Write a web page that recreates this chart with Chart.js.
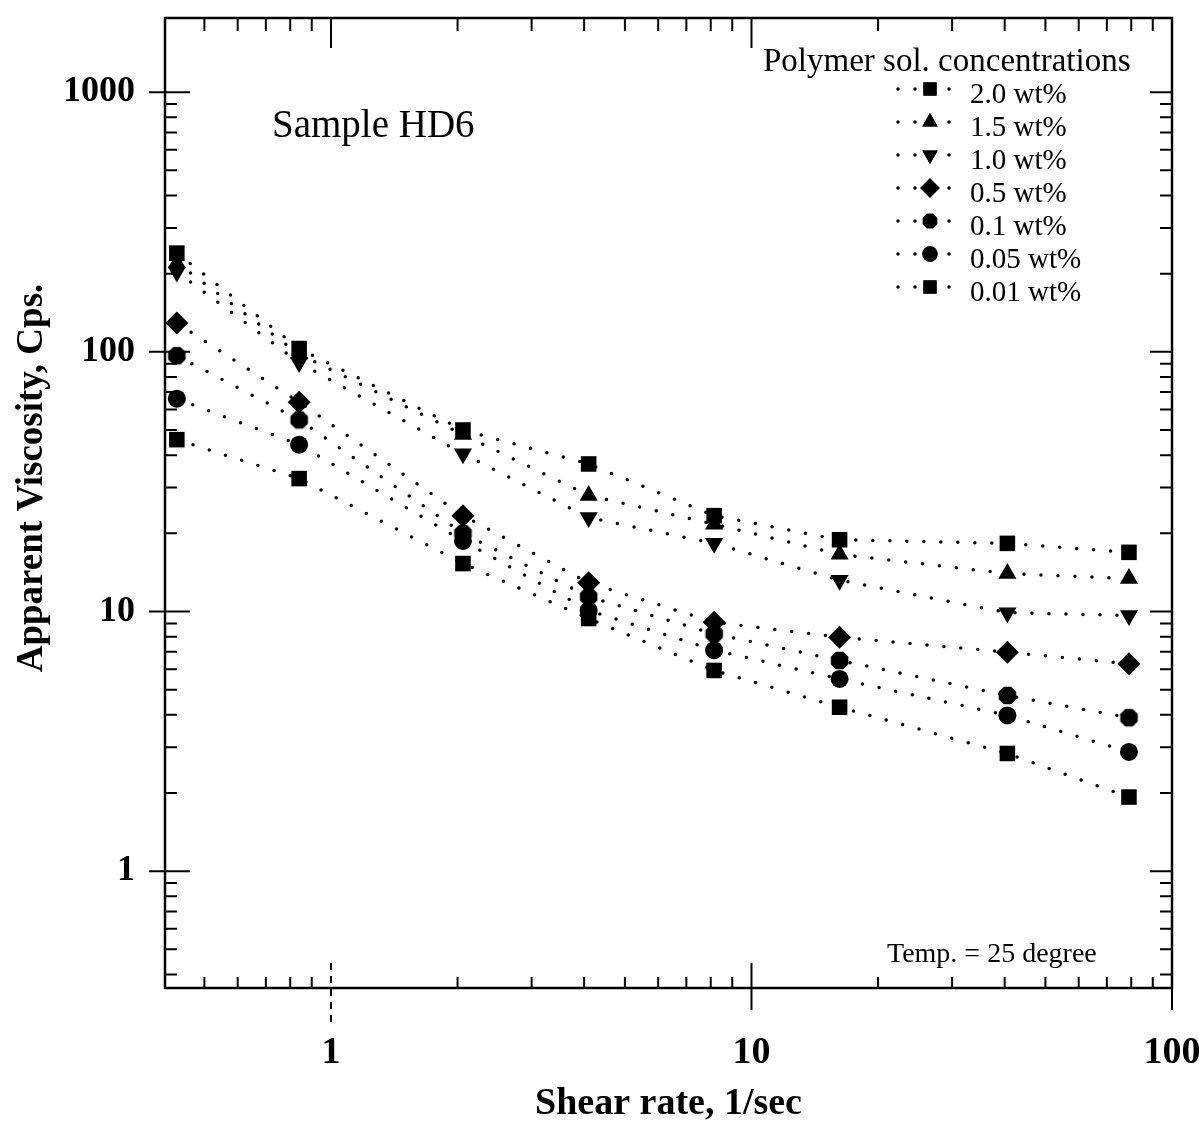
<!DOCTYPE html>
<html>
<head>
<meta charset="utf-8">
<script src="https://cdn.jsdelivr.net/npm/chart.js@4.4.1/dist/chart.umd.min.js"></script>
<style>
  html, body { margin: 0; padding: 0; background: #fff; }
</style>
</head>
<body>
<canvas id="myChart" width="1199" height="1145"></canvas>
<script>
// shear rate, 1/sec
const shearRates = [0.43, 0.84, 2.06, 4.1, 8.15, 16.2, 40.6, 79];

// apparent viscosity, cps, one array per concentration
const visc20 = [240, 103, 50, 37, 23.4, 18.9, 18.3, 16.9];
const visc15 = [220, 98, 48, 28, 21.7, 16.6, 14.0, 13.4];
const visc10 = [203, 91, 40.5, 23, 18.3, 13.2, 9.9, 9.65];
const visc05 = [129, 64, 23.4, 12.9, 9.1, 7.96, 6.97, 6.29];
const visc01 = [96.6, 54.7, 20, 11.4, 8.2, 6.48, 4.75, 3.9];
const visc005 = [66, 43.9, 18.7, 10.1, 7.1, 5.5, 3.98, 2.88];
const visc001 = [45.9, 32.5, 15.3, 9.4, 5.93, 4.28, 2.84, 1.93];

const seriesLabels = ["2.0 wt%", "1.5 wt%", "1.0 wt%", "0.5 wt%", "0.1 wt%", "0.05 wt%", "0.01 wt%"];
const xTickLabels = [1, 10, 100];
const yTickLabels = [1, 10, 100, 1000];

const SERIF = "'Liberation Serif', 'Times New Roman', serif";

// hexagon marker for 0.1 wt%
function makeHex(r) {
  const c = document.createElement("canvas");
  c.width = c.height = Math.ceil(r * 2 + 2);
  const g = c.getContext("2d");
  g.fillStyle = "#000";
  g.beginPath();
  for (let k = 0; k < 8; k++) {
    const a = Math.PI / 8 + (k * Math.PI) / 4;
    const px = c.width / 2 + r * Math.cos(a);
    const py = c.height / 2 + r * Math.sin(a);
    if (k === 0) g.moveTo(px, py); else g.lineTo(px, py);
  }
  g.closePath();
  g.fill();
  return c;
}
const hex = makeHex(9.5);
const hexSmall = makeHex(8);

function series(label, values, style, radius, rotation) {
  return {
    label,
    data: shearRates.map((x, i) => ({ x, y: values[i] })),
    borderColor: "#000",
    backgroundColor: "#000",
    borderWidth: 3.5,
    borderDash: [0, 17],
    borderCapStyle: "round",
    pointStyle: style,
    pointRadius: radius,
    pointRotation: rotation || 0,
    pointBorderWidth: 0,
    pointBackgroundColor: "#000",
    fill: false,
    tension: 0,
  };
}

const datasets = [
  series(seriesLabels[0], visc20, "rect", 11),
  series(seriesLabels[1], visc15, "triangle", 10.5),
  series(seriesLabels[2], visc10, "triangle", 10.5, 180),
  series(seriesLabels[3], visc05, "rectRot", 11.5),
  series(seriesLabels[4], visc01, hex, 9.5),
  series(seriesLabels[5], visc005, "circle", 9),
  series(seriesLabels[6], visc001, "rect", 11),
];

function drawTicks(ctx, chart) {
  const { left, right, top, bottom } = chart.chartArea;
  const xs = chart.scales.x, ys = chart.scales.y;
  ctx.save();
  ctx.strokeStyle = "#000";
  ctx.lineWidth = 2;
  // x ticks, bottom and top
  for (let d = -1; d <= 2; d++) {
    for (let m = 1; m <= 9; m++) {
      const v = m * Math.pow(10, d);
      if (v < xs.min - 1e-9 || v > xs.max + 1e-9) continue;
      const px = xs.getPixelForValue(v);
      if (m === 1) {
        ctx.beginPath();
        if (v === 1) ctx.setLineDash([7, 6]);
        ctx.moveTo(px, bottom - 25); ctx.lineTo(px, bottom + (v === 1 ? 40 : 22));
        ctx.stroke();
        ctx.setLineDash([]);
        ctx.beginPath();
        ctx.moveTo(px, top); ctx.lineTo(px, top + 30);
        ctx.stroke();
      } else {
        ctx.beginPath();
        ctx.moveTo(px, bottom); ctx.lineTo(px, bottom - 11);
        ctx.moveTo(px, top); ctx.lineTo(px, top + 13);
        ctx.stroke();
      }
    }
  }
  // y ticks, left and right
  for (let d = -1; d <= 3; d++) {
    for (let m = 1; m <= 9; m++) {
      const v = m * Math.pow(10, d);
      if (v < ys.min - 1e-9 || v > ys.max + 1e-9) continue;
      const py = ys.getPixelForValue(v);
      ctx.beginPath();
      if (m === 1) {
        ctx.moveTo(left - 16, py); ctx.lineTo(left + 25, py);
        ctx.moveTo(right, py); ctx.lineTo(right - 22, py);
      } else {
        ctx.moveTo(left, py); ctx.lineTo(left + 12, py);
        ctx.moveTo(right, py); ctx.lineTo(right - 12, py);
      }
      ctx.stroke();
    }
  }
  // frame
  ctx.lineWidth = 2.5;
  ctx.strokeRect(left, top, right - left, bottom - top);
  ctx.restore();
}

const annotate = {
  id: "annotate",
  afterDraw(chart) {
    const ctx = chart.ctx;
    drawTicks(ctx, chart);
    ctx.save();
    ctx.fillStyle = "#000";

    // y axis title
    ctx.save();
    ctx.translate(32, 478);
    ctx.rotate(-Math.PI / 2);
    ctx.textAlign = "center";
    ctx.textBaseline = "middle";
    ctx.font = "bold 37px " + SERIF;
    ctx.fillText("Apparent Viscosity, Cps.", 0, 0);
    ctx.restore();

    ctx.textBaseline = "alphabetic";
    ctx.textAlign = "left";
    ctx.font = "39px " + SERIF;
    ctx.fillText("Sample HD6", 272, 137);
    ctx.font = "28px " + SERIF;
    ctx.fillText("Temp. = 25 degree", 887, 962);
    ctx.font = "33px " + SERIF;
    ctx.fillText("Polymer sol. concentrations", 763, 71);

    // legend rows
    chart.data.datasets.forEach((ds, i) => {
      const my = 89 + i * 33;
      const mx = 930;
      ctx.save();
      ctx.strokeStyle = "#000";
      ctx.lineWidth = ds.borderWidth;
      ctx.lineCap = "round";
      ctx.setLineDash(ds.borderDash);
      ctx.beginPath();
      ctx.moveTo(mx - 32, my);
      ctx.lineTo(mx + 26, my);
      ctx.stroke();
      ctx.restore();
      Chart.helpers.drawPoint(ctx, {
        pointStyle: ds.pointStyle === hex ? hexSmall : ds.pointStyle,
        radius: ds.pointRadius * 0.85,
        rotation: ds.pointRotation,
        borderWidth: 0,
      }, mx, my);
      ctx.fillStyle = "#000";
      ctx.fill();
      ctx.font = "29px " + SERIF;
      ctx.textBaseline = "middle";
      ctx.fillText(ds.label, 970, my + 6);
    });
    ctx.restore();
  },
};

const config = {
  type: "line",
  data: { datasets },
  options: {
    responsive: false,
    animation: false,
    devicePixelRatio: 1,
    layout: { padding: { top: 18, right: 27, bottom: 0, left: 0 } },
    plugins: { legend: { display: false }, tooltip: { enabled: false } },
    scales: {
      x: {
        type: "logarithmic",
        position: "bottom",
        min: 0.403,
        max: 100,
        grid: { display: false, drawTicks: false },
        border: { display: false },
        afterBuildTicks: (s) => { s.ticks = xTickLabels.map((v) => ({ value: v })); },
        afterFit: (s) => { s.height = 157; s.paddingLeft = 0; s.paddingRight = 0; },
        ticks: {
          autoSkip: false,
          maxRotation: 0,
          padding: 42,
          color: "#000",
          font: { family: SERIF, size: 38, weight: "bold" },
          callback: (v) => (xTickLabels.includes(v) ? String(v) : ""),
        },
        title: {
          display: true,
          text: "Shear rate, 1/sec",
          color: "#000",
          font: { family: SERIF, size: 38, weight: "bold" },
          padding: { top: 0, bottom: 18 },
        },
      },
      y: {
        type: "logarithmic",
        position: "left",
        min: 0.355,
        max: 1930,
        grid: { display: false, drawTicks: false },
        border: { display: false },
        afterBuildTicks: (s) => { s.ticks = yTickLabels.map((v) => ({ value: v })); },
        afterFit: (s) => { s.width = 165; s.paddingTop = 0; s.paddingBottom = 0; },
        ticks: {
          autoSkip: false,
          padding: 30,
          color: "#000",
          font: { family: SERIF, size: 36, weight: "bold" },
          callback: (v) => (yTickLabels.includes(v) ? String(v) : ""),
        },
        title: { display: false },
      },
    },
  },
  plugins: [annotate],
};

const myChart = new Chart(document.getElementById("myChart"), config);
</script>
</body>
</html>
